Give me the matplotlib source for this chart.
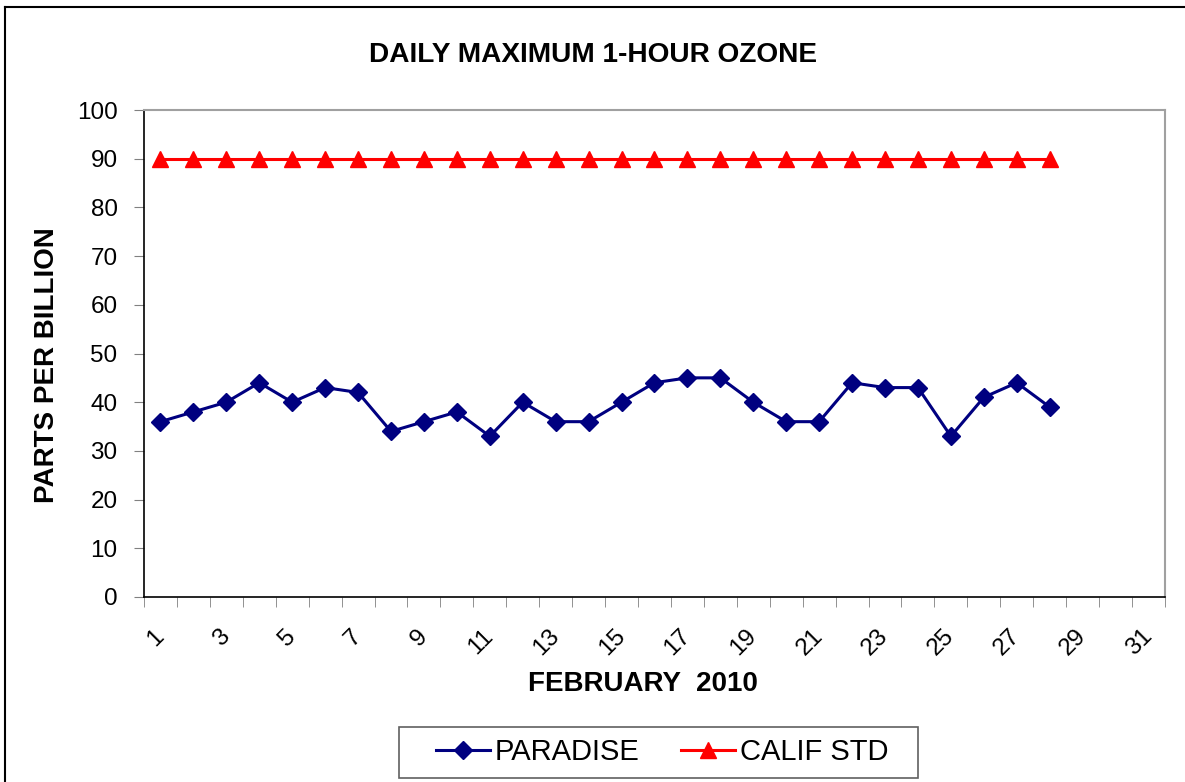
import numpy as np
import matplotlib
matplotlib.use("Agg")
import matplotlib.pyplot as plt
from matplotlib.lines import Line2D
from matplotlib.patches import Rectangle

plt.rcParams['font.family'] = ['Liberation Sans', 'DejaVu Sans']

# Werte
days = np.arange(1, 29)
paradise = [36, 38, 40, 44, 40, 43, 42, 34, 36, 38, 33, 40, 36, 36,
            40, 44, 45, 45, 40, 36, 36, 44, 43, 43, 33, 41, 44, 39]
calif_std = [90] * 28
n_days = 31
y_ticks = np.arange(0, 101, 10)
x_labels = [str(d) for d in range(1, n_days + 1, 2)]

W, H = 1185, 782
fig = plt.figure(figsize=(W / 100, H / 100), dpi=100)
ax = fig.add_axes([0.1215, 0.2366, 0.8616, 0.6227])

ax.plot(days, paradise, color='#000080', lw=2.2, marker='D', ms=9,
        label='PARADISE')
ax.plot(days, calif_std, color='#ff0000', lw=2.2, marker='^', ms=11,
        label='CALIF STD')

ax.set_xlim(0.5, n_days + 0.5)
ax.set_ylim(0, 100)
ax.set_yticks(y_ticks)
ax.tick_params(axis='y', labelsize=17.5, length=7, color='#808080', pad=12)

# Striche zwischen den Kategorien, Beschriftung in der Mitte
ax.set_xticks(np.arange(0.5, n_days + 1, 1), minor=True)
ax.set_xticks(np.arange(1, n_days + 1, 2))
ax.set_xticklabels(x_labels)
ax.tick_params(axis='x', which='minor', length=7, color='#808080')
ax.tick_params(axis='x', which='major', length=0, labelsize=17.5, pad=26)
for lbl in ax.get_xticklabels():
    lbl.set_rotation(45)
    lbl.set_rotation_mode('anchor')
    lbl.set_ha('right')
    lbl.set_va('center')

for s in ['top', 'right']:
    ax.spines[s].set_color('#a0a0a0')
    ax.spines[s].set_linewidth(1.5)
for s in ['left', 'bottom']:
    ax.spines[s].set_color('black')
    ax.spines[s].set_linewidth(1.2)

fig.text(593 / W, 1 - 55 / H, 'DAILY MAXIMUM 1-HOUR OZONE', ha='center',
         va='center', fontsize=20.2, fontweight='bold')
fig.text(643 / W, 1 - 684 / H, 'FEBRUARY  2010', ha='center',
         va='center', fontsize=20, fontweight='bold')
fig.text(47 / W, 1 - 365 / H, 'PARTS PER BILLION', ha='center',
         va='center', fontsize=20, fontweight='bold', rotation=90)

# Legende ohne eigenen Rahmen, Rahmen separat (breiter als matplotlib's)
leg = fig.legend(loc='center', bbox_to_anchor=(662 / W, 1 - 752 / H),
                 ncol=2, fontsize=21, frameon=False,
                 handlelength=1.85, handletextpad=0.17,
                 columnspacing=1.4, borderpad=0, borderaxespad=0)
fig.add_artist(Rectangle((399 / W, 1 - 778 / H), 519 / W, 51 / H,
                         transform=fig.transFigure, fill=False,
                         edgecolor='#606060', lw=1.2))

# Rahmen um das Diagramm (rechts und unten abgeschnitten)
fig.add_artist(Line2D([5 / W, 5 / W], [0, 1 - 7 / H],
                      transform=fig.transFigure, color='black', lw=1.5))
fig.add_artist(Line2D([5 / W, 1], [1 - 7 / H, 1 - 7 / H],
                      transform=fig.transFigure, color='black', lw=1.5))

fig.savefig('out.png', dpi=100)
